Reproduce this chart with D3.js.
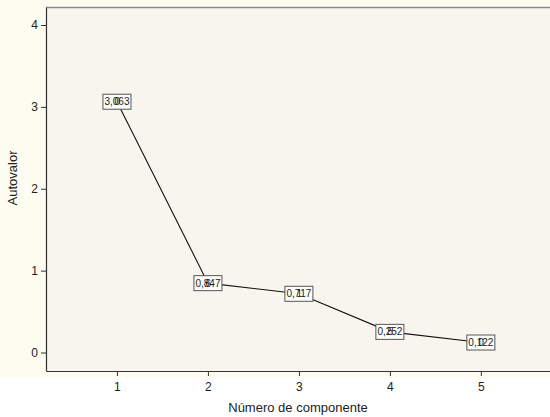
<!doctype html>
<html lang="es">
<head>
  <meta charset="utf-8">
  <title>Gráfico de sedimentación</title>
  <style>
    body { margin: 0; background: #fff; }
    svg { display: block; font-family: "Liberation Sans", Arial, sans-serif; }
  </style>
</head>
<body>
  <script src="https://d3js.org/d3.v7.min.js"></script>
  <script>
// data
var componentes = [1, 2, 3, 4, 5];
var autovalores = [3.063, 0.847, 0.717, 0.252, 0.122];
var etiquetas = ["3,063", "0,847", "0,717", "0,252", "0,122"];
// second, overlapping label glyphs (as in the original export)
var etiquetasSolapadas = ["0", "6", "1", "5", "0"];
var yTicks = [0, 1, 2, 3, 4];

var width = 550, height = 417;
var mLeft = 46, mTop = 7, mRight = 550, mBottom = 371;

var svg = d3.select("body").append("svg")
    .attr("width", width)
    .attr("height", height);

// outer cream panel
svg.append("rect")
    .attr("x", 0).attr("y", 0)
    .attr("width", width).attr("height", 378)
    .attr("fill", "#fdfcf1");

// plot area
svg.append("rect")
    .attr("x", mLeft).attr("y", mTop)
    .attr("width", mRight - mLeft).attr("height", mBottom - mTop)
    .attr("fill", "#f8f5ee");

var x = d3.scaleLinear().domain([0.22, 5.76]).range([mLeft, mRight]);
var y = d3.scaleLinear().domain([-0.226, 4.22]).range([mBottom, mTop]);

// top border
svg.append("line")
    .attr("x1", mLeft).attr("x2", mRight)
    .attr("y1", mTop + 0.5).attr("y2", mTop + 0.5)
    .attr("stroke", "#8a8a8a").attr("stroke-width", 1.5);

// axes
var yAxis = d3.axisLeft(y).tickValues(yTicks).tickSize(5).tickSizeOuter(0).tickPadding(3)
    .tickFormat(d3.format("d"));
var gy = svg.append("g").attr("transform", "translate(" + mLeft + ",0)").call(yAxis);

var xAxis = d3.axisBottom(x).tickValues(componentes).tickSize(5).tickSizeOuter(0).tickPadding(6)
    .tickFormat(d3.format("d"));
var gx = svg.append("g").attr("transform", "translate(0," + mBottom + ")").call(xAxis);

[gy, gx].forEach(function(g) {
  g.select(".domain").attr("stroke", "#333").attr("stroke-width", 1.2);
  g.selectAll(".tick line").attr("stroke", "#333");
  g.selectAll(".tick text").attr("fill", "#222").style("font-size", "12px")
    .style("font-family", "'Liberation Sans', Arial, sans-serif");
});

// axis titles
svg.append("text")
    .attr("transform", "translate(17,178) rotate(-90)")
    .attr("text-anchor", "middle")
    .style("font-size", "13px")
    .attr("fill", "#222")
    .text("Autovalor");

svg.append("text")
    .attr("x", 298).attr("y", 412)
    .attr("text-anchor", "middle")
    .style("font-size", "13px")
    .attr("fill", "#222")
    .text("Número de componente");

// line
var pts = componentes.map(function(c, i) { return [c, autovalores[i]]; });
svg.append("path")
    .datum(pts)
    .attr("fill", "none")
    .attr("stroke", "#111")
    .attr("stroke-width", 1.1)
    .attr("d", d3.line().x(function(d) { return x(d[0]); }).y(function(d) { return y(d[1]); }));

// label boxes
var lab = svg.selectAll(".lab").data(pts).enter().append("g")
    .attr("class", "lab")
    .attr("transform", function(d) { return "translate(" + x(d[0]) + "," + y(d[1]) + ")"; });

lab.append("rect")
    .attr("x", -14).attr("y", -7.5)
    .attr("width", 28).attr("height", 15)
    .attr("fill", "#fdfdfa")
    .attr("stroke", "#555").attr("stroke-width", 1);

lab.append("text")
    .attr("x", -12.5).attr("y", 3.5)
    .style("font-size", "10px")
    .attr("fill", "#222")
    .text(function(d, i) { return etiquetas[i]; });

lab.append("text")
    .attr("x", -2.5).attr("y", 3.5)
    .style("font-size", "10px")
    .attr("fill", "#222")
    .text(function(d, i) { return etiquetasSolapadas[i]; });
  </script>
</body>
</html>
